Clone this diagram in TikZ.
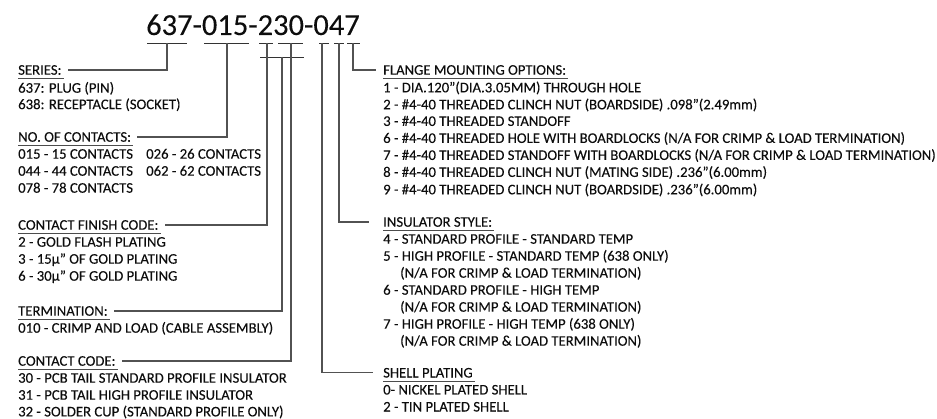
\documentclass[tikz,border=0pt]{standalone}
\usepackage{fontspec}
\setmainfont{Carlito}[FakeBold=0.1]
\begin{document}
\begin{tikzpicture}[x=1pt,y=-1pt,
  txt/.style={font=\fontsize{14.7}{17}\selectfont, text=black!95, inner sep=0pt, anchor=base west},
  ttl/.style={font=\fontsize{30.5}{34}\selectfont, text=black!95, inner sep=0pt, anchor=base west},
  conn/.style={draw=black!68, line width=1.2pt},
  tline/.style={draw=black!80, line width=0.8pt},
  ul/.style={draw=black!70, line width=0.7pt}]
\useasboundingbox (0,0) rectangle (937,419);
\fill[white] (0,0) rectangle (937,419);

% title
\node[ttl] (title) at (146,35) {637-015-230-047};
\coordinate (t637) at (167,43);
\coordinate (t015) at (227,43);
\coordinate (t2) at (267,43);
\coordinate (t30) at (291,43);
\coordinate (tx) at (282,57);
\coordinate (t0) at (322,43);
\coordinate (t4) at (339,43);
\coordinate (t7) at (353,43);
\draw[tline] (147,43) -- (187,43);
\draw[tline] (204,43) -- (249,43);
\draw[tline] (259,43) -- (273,43);
\draw[tline] (278,43) -- (303,43);
\draw[tline] (319,43) -- (329,43);
\draw[tline] (334,43) -- (344,43);
\draw[tline] (347,43) -- (360,43);
\draw[tline] (260,57) -- (304,57);

% left column
\node[txt] (ser) at (18,74.7) {SERIES:};
\node[txt] (ser1) at (18,92.7) {637: PLUG (PIN)};
\node[txt] (ser2) at (18,109.1) {638: RECEPTACLE (SOCKET)};

\node[txt] (noc) at (18,141.7) {NO. OF CONTACTS:};
\node[txt] (noc1) at (18,158.7) {015 - 15 CONTACTS};
\node[txt] (noc2) at (146,158.7) {026 - 26 CONTACTS};
\node[txt] (noc3) at (18,175.7) {044 - 44 CONTACTS};
\node[txt] (noc4) at (146,175.7) {062 - 62 CONTACTS};
\node[txt] (noc5) at (18,192.7) {078 - 78 CONTACTS};

\node[txt] (cfc) at (18,229.7) {CONTACT FINISH CODE:};
\node[txt] (cfc1) at (18,246.7) {2 - GOLD FLASH PLATING};
\node[txt] (cfc2) at (18,263.7) {3 - 15µ" OF GOLD PLATING};
\node[txt] (cfc3) at (18,280.7) {6 - 30µ" OF GOLD PLATING};

\node[txt] (ter) at (18,315.7) {TERMINATION:};
\node[txt] (ter1) at (18,332.7) {010 - CRIMP AND LOAD (CABLE ASSEMBLY)};

\node[txt] (cc) at (18,365.7) {CONTACT CODE:};
\node[txt] (cc1) at (18,382.7) {30 - PCB TAIL STANDARD PROFILE INSULATOR};
\node[txt] (cc2) at (18,399.7) {31 - PCB TAIL HIGH PROFILE INSULATOR};
\node[txt] (cc3) at (18,416.4) {32 - SOLDER CUP (STANDARD PROFILE ONLY)};

% right column
\node[txt] (fl) at (383,74.7) {FLANGE MOUNTING OPTIONS:};
\node[txt] (fl1) at (383,92.3) {1 - DIA.120"(DIA.3.05MM) THROUGH HOLE};
\node[txt] (fl2) at (383,109.3) {2 - \#4-40 THREADED CLINCH NUT (BOARDSIDE) .098"(2.49mm)};
\node[txt] (fl3) at (383,125.9) {3 - \#4-40 THREADED STANDOFF};
\node[txt] (fl4) at (383,142.9) {6 - \#4-40 THREADED HOLE WITH BOARDLOCKS (N/A FOR CRIMP \& LOAD TERMINATION)};
\node[txt] (fl5) at (383,159.9) {7 - \#4-40 THREADED STANDOFF WITH BOARDLOCKS (N/A FOR CRIMP \& LOAD TERMINATION)};
\node[txt] (fl6) at (383,176.9) {8 - \#4-40 THREADED CLINCH NUT (MATING SIDE) .236"(6.00mm)};
\node[txt] (fl7) at (383,194.3) {9 - \#4-40 THREADED CLINCH NUT (BOARDSIDE) .236"(6.00mm)};

\node[txt] (ins) at (383,226.7) {INSULATOR STYLE:};
\node[txt] (ins1) at (383,243.7) {4 - STANDARD PROFILE - STANDARD TEMP};
\node[txt] (ins2) at (383,260.7) {5 - HIGH PROFILE - STANDARD TEMP (638 ONLY)};
\node[txt] (ins3) at (400,277.7) {(N/A FOR CRIMP \& LOAD TERMINATION)};
\node[txt] (ins4) at (383,294.7) {6 - STANDARD PROFILE - HIGH TEMP};
\node[txt] (ins5) at (400,311.7) {(N/A FOR CRIMP \& LOAD TERMINATION)};
\node[txt] (ins6) at (383,328.7) {7 - HIGH PROFILE - HIGH TEMP (638 ONLY)};
\node[txt] (ins7) at (400,345.7) {(N/A FOR CRIMP \& LOAD TERMINATION)};

\node[txt] (sh) at (383,377.5) {SHELL PLATING};
\node[txt] (sh1) at (383,394.5) {0- NICKEL PLATED SHELL};
\node[txt] (sh2) at (383,411.5) {2 - TIN PLATED SHELL};

% header underlines
\foreach \h in {ser,noc,cfc,ter,cc,fl,ins,sh}{
  \draw[ul] ([yshift=-3.6pt]\h.base west) -- ([xshift=2pt,yshift=-3.6pt]\h.base east);
}

% connectors
\draw[conn] (t637) |- ([xshift=6pt]ser.east);
\draw[conn] (t015) |- ([xshift=6pt]noc.east);
\draw[conn] (t2) |- ([xshift=6pt]cfc.east);
\draw[conn] (tx) |- ([xshift=6pt]ter.east);
\draw[conn] (t30) |- ([xshift=6pt]cc.east);
\draw[conn] (t0) |- ([xshift=-10pt]sh.west);
\draw[conn] (t4) |- ([xshift=-14pt]ins.west);
\draw[conn] (t7) |- ([xshift=-7pt]fl.west);
\end{tikzpicture}
\end{document}
